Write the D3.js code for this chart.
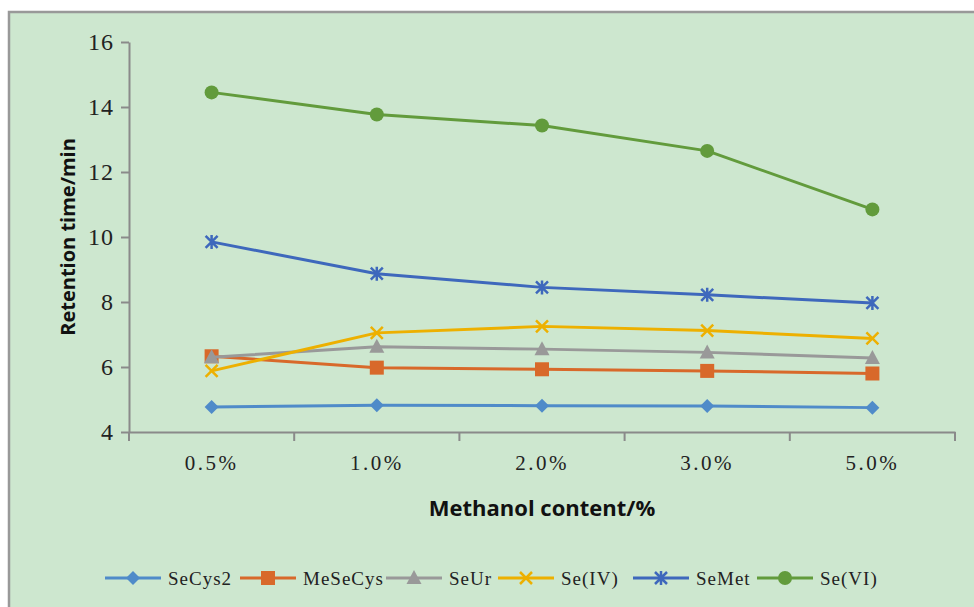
<!DOCTYPE html>
<html><head><meta charset="utf-8">
<script src="https://cdn.jsdelivr.net/npm/d3@7/dist/d3.min.js"></script>
<style>body{margin:0;background:#fff}svg{display:block}</style>
</head><body>
<svg id="c" width="974" height="607"></svg>
<script>
const categories = ["0.5%", "1.0%", "2.0%", "3.0%", "5.0%"];
const seriesNames = ["SeCys2", "MeSeCys", "SeUr", "Se(IV)", "SeMet", "Se(VI)"];
const SeCys2  = [4.77, 4.82, 4.81, 4.80, 4.75];
const MeSeCys = [6.33, 5.98, 5.93, 5.88, 5.80];
const SeUr    = [6.30, 6.62, 6.55, 6.45, 6.28];
const SeIV    = [5.88, 7.05, 7.25, 7.12, 6.88];
const SeMet   = [9.85, 8.87, 8.45, 8.22, 7.97];
const SeVI    = [14.45, 13.77, 13.43, 12.65, 10.85];
const yTicks = [4, 6, 8, 10, 12, 14, 16];

const seriesValues = [SeCys2, MeSeCys, SeUr, SeIV, SeMet, SeVI];
const colors = ["#4F8BC9", "#D8692A", "#999999", "#EDB000", "#3E68BC", "#629B3C"];
const markers = ["diamond", "square", "triangle", "x", "star", "circle"];

const svg = d3.select("#c");
svg.append("rect").attr("x", 9).attr("y", 12).attr("width", 980).attr("height", 610)
  .attr("fill", "#CDE7CF").attr("stroke", "#999").attr("stroke-width", 2.5);

const x = d3.scaleBand().domain(categories).range([129, 955]);
const y = d3.scaleLinear().domain([4, 16]).range([432, 42]);

const serif = "'Liberation Serif','DejaVu Serif',serif";
const axisColor = "#8a8a8a";

// Y axis
const ya = svg.append("g").attr("transform", "translate(129,0)")
  .call(d3.axisLeft(y).tickValues(yTicks).tickSize(8).tickPadding(7).tickSizeOuter(0));
ya.select(".domain").attr("stroke", axisColor).attr("stroke-width", 2);
ya.selectAll(".tick line").attr("stroke", axisColor).attr("stroke-width", 2);
ya.selectAll(".tick text").attr("font-family", serif).attr("font-size", 24).attr("fill", "#222")
  .attr("letter-spacing", 1).attr("dy", "0.33em");

// X axis
const xa = svg.append("g").attr("transform", "translate(0,432)")
  .call(d3.axisBottom(x).tickSize(0).tickPadding(23));
xa.select(".domain").attr("stroke", axisColor).attr("stroke-width", 2);
xa.selectAll(".tick text").attr("font-family", serif).attr("font-size", 21).attr("fill", "#222")
  .attr("letter-spacing", 2.5).attr("dy", "0.7em");
// boundary ticks
const edges = categories.map(c => x(c)).concat([x.range()[1]]);
xa.selectAll(".edge").data(edges).enter().append("line").attr("class", "edge")
  .attr("x1", d => d).attr("x2", d => d).attr("y1", 0).attr("y2", 9)
  .attr("stroke", axisColor).attr("stroke-width", 2);

// Titles
const sans = "'Open Sans','Noto Sans',sans-serif";
svg.append("text").attr("transform", "translate(68,237) rotate(-90)").attr("text-anchor", "middle")
  .attr("dy", "0.35em")
  .attr("font-family", sans).attr("font-weight", "bold").attr("font-size", 20).attr("fill", "#111")
  .text("Retention time/min");
svg.append("text").attr("x", 542).attr("y", 508).attr("text-anchor", "middle").attr("dy", "0.35em")
  .attr("font-family", sans).attr("font-weight", "bold").attr("font-size", 22).attr("fill", "#111")
  .text("Methanol content/%");

function drawMarker(g, type, cx, cy, color) {
  const s = 7;
  if (type === "diamond") {
    g.append("path").attr("d", `M${cx},${cy - s}L${cx + s},${cy}L${cx},${cy + s}L${cx - s},${cy}Z`).attr("fill", color);
  } else if (type === "square") {
    g.append("rect").attr("x", cx - 7).attr("y", cy - 7).attr("width", 14).attr("height", 14).attr("fill", color);
  } else if (type === "triangle") {
    g.append("path").attr("d", `M${cx},${cy - 8}L${cx + 7.5},${cy + 6}L${cx - 7.5},${cy + 6}Z`).attr("fill", color);
  } else if (type === "x") {
    g.append("path").attr("d", `M${cx - 6},${cy - 6}L${cx + 6},${cy + 6}M${cx - 6},${cy + 6}L${cx + 6},${cy - 6}`)
      .attr("stroke", color).attr("stroke-width", 2.5).attr("fill", "none");
  } else if (type === "star") {
    g.append("path").attr("d", `M${cx - 6},${cy - 6}L${cx + 6},${cy + 6}M${cx - 6},${cy + 6}L${cx + 6},${cy - 6}M${cx},${cy - 7}L${cx},${cy + 7}`)
      .attr("stroke", color).attr("stroke-width", 2.5).attr("fill", "none");
  } else if (type === "circle") {
    g.append("circle").attr("cx", cx).attr("cy", cy).attr("r", 7).attr("fill", color);
  }
}

const line = d3.line().x((d, i) => x(categories[i]) + x.bandwidth() / 2).y(d => y(d));
seriesValues.forEach((vals, si) => {
  const g = svg.append("g");
  g.append("path").attr("d", line(vals)).attr("fill", "none").attr("stroke", colors[si])
    .attr("stroke-width", 3).attr("stroke-linejoin", "round");
  vals.forEach((v, i) => drawMarker(g, markers[si], x(categories[i]) + x.bandwidth() / 2, y(v), colors[si]));
});

// Legend
const legendX = [105, 240, 386, 498, 633, 757];
const ly = 578;
seriesNames.forEach((name, si) => {
  const g = svg.append("g");
  const x0 = legendX[si];
  g.append("line").attr("x1", x0).attr("x2", x0 + 56).attr("y1", ly).attr("y2", ly)
    .attr("stroke", colors[si]).attr("stroke-width", 3);
  drawMarker(g, markers[si], x0 + 28, ly, colors[si]);
  g.append("text").attr("x", x0 + 63).attr("y", ly).attr("dy", "0.35em")
    .attr("font-family", serif).attr("font-size", 19).attr("letter-spacing", 1).attr("fill", "#222").text(name);
});
</script>
</body></html>
